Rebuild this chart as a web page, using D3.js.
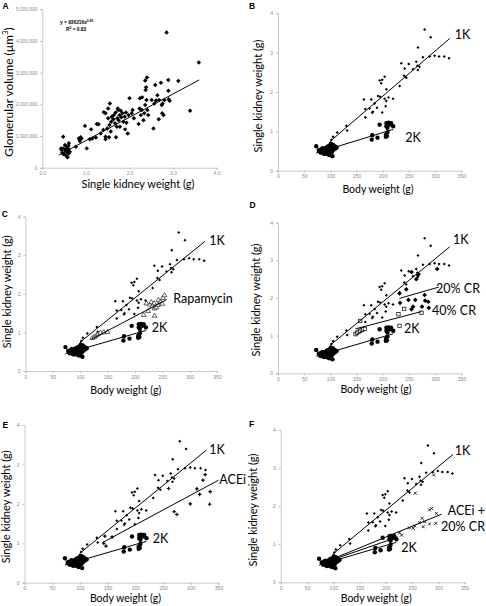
<!DOCTYPE html>
<html><head><meta charset="utf-8">
<script src="https://cdn.jsdelivr.net/npm/d3@7"></script>
<style>body{margin:0;background:#fff}</style>
</head><body><svg id="c" width="486" height="606"></svg>
<script>
// ---------- DATA ----------
// Panel A: single kidney weight (g) vs glomerular volume (µm³)
const glomPoints = [
[0.48,980000],[0.43,610000],[0.48,610000],[0.52,560000],[0.46,470000],[0.50,430000],[0.56,505000],[0.60,695000],[0.61,770000],[0.56,660000],[0.54,400000],[0.58,330000],[0.61,450000],[0.63,505000],[0.52,715000],[0.44,560000],[0.56,350000],[0.48,430000],[0.60,590000],[0.54,580000],
[0.77,660000],[0.84,925000],[0.88,960000],[0.90,925000],[0.86,840000],[0.98,1320000],[1.02,610000],[1.12,1210000],[1.09,895000],[1.15,925000],[1.25,1380000],[1.29,1370000],[1.23,950000],[1.34,1080000],[1.40,1190000],[1.41,1750000],[1.45,1720000],[1.45,980000],[1.45,895000],[1.49,1240000],[1.51,1560000],[1.51,1870000],[1.55,2030000],[1.54,1350000],[1.57,1140000],[1.53,960000],[1.58,1450000],[1.59,1610000],[1.63,1530000],[1.64,1660000],[1.67,1400000],[1.68,1740000],[1.71,1290000],[1.69,960000],[1.72,1560000],[1.73,1870000],[1.74,1820000],[1.75,1500000],[1.77,1660000],[1.78,1290000],[1.80,1800000],[1.81,1590000],[1.84,1720000],[1.86,1450000],[1.89,1610000],[1.90,1210000],[1.92,1740000],[1.93,1420000],[1.96,1080000],[1.98,1660000],[2.00,2190000],[2.05,1720000],[2.07,1820000],[2.10,1560000],[2.21,1380000],[2.23,1870000],[2.24,2190000],[2.26,1660000],[2.28,1820000],[2.29,2220000],[2.32,1500000],[2.34,1720000],[2.36,1980000],[2.37,2450000],[2.38,2540000],[2.36,2750000],[2.40,2850000],[2.39,2140000],[2.41,1820000],[2.43,1660000],[2.51,2140000],[2.55,1240000],[2.59,2610000],[2.57,2030000],[2.61,2120000],[2.64,2290000],[2.67,1530000],[2.68,2140000],[2.72,2680000],[2.74,1980000],[2.76,2030000],[2.75,1720000],[2.78,1660000],[2.80,2140000],[2.85,4270000],[2.89,2770000],[2.89,2430000],[2.90,2160000],[2.92,2110000],[3.12,2740000],[3.39,1800000],[3.59,3320000]
];
const trendA = [[0.38,400000],[3.6,2770000]];
const eqA = "y = 936216x";
const eqAExp = "0.81";
const r2A = "0.83";
const xTicksA = [0,1,2,3,4];
const yTicksA = [0,1000000,2000000,3000000,4000000,5000000];

// Panels B–F: body weight (g) vs single kidney weight (g)
const xTicksBW = [0,50,100,150,200,250,300,350];
const yTicksKW = [0,1,2,3,4];
const baseCluster = [[73,0.62],[78,0.52],[80,0.50],[81,0.46],[82,0.54],[84,0.49],[85,0.57],[86,0.45],[87,0.52],[88,0.55],[89,0.48],[90,0.52],[90,0.44],[91,0.57],[92,0.50],[93,0.46],[93,0.60],[94,0.53],[95,0.42],[95,0.49],[96,0.56],[96,0.62],[97,0.45],[97,0.52],[98,0.58],[98,0.40],[99,0.50],[99,0.64],[100,0.55],[100,0.47],[101,0.60],[101,0.68],[102,0.52],[102,0.57],[103,0.63],[103,0.48],[104,0.55],[104,0.37],[105,0.60],[105,0.66],[106,0.53],[107,0.58],[108,0.62],[109,0.56],[110,0.60],[112,0.59],[88,0.43],[84,0.53]];
const twoKPoints = [[179,0.79],[180,0.90],[190,0.84],[194,1.17],[206,0.91],[206,0.86],[208,0.88],[209,0.98],[207,1.21],[211,1.22],[216,1.21],[220,1.13],[207,1.13],[209,1.09],[213,1.17]];
const oneKPoints = [[100.5,0.71],[102,0.78],[105,0.86],[113,0.97],[130.5,1.14],[132,1.02],[164,1.81],[166.7,1.57],[166.7,1.36],[175,1.58],[178,1.81],[180,1.47],[181,1.50],[184.5,1.71],[189,1.60],[191,1.90],[195,1.88],[199,1.48],[205.6,1.64],[203.6,1.83],[206.8,1.77],[211,1.86],[219.6,1.83],[206.8,2.07],[194,2.29],[199,2.31],[197,2.22],[203.6,2.39],[232.3,2.15],[241,2.41],[245,2.36],[235.5,2.73],[249.5,2.71],[241.8,2.60],[264,2.77],[266,2.67],[270,2.64],[257.7,2.58],[267,2.56],[276.8,2.88],[289.6,2.90],[299,2.92],[307.4,2.90],[317.6,2.90],[326.5,2.86],[267.3,3.13],[280,3.59],[291.5,3.39]];
const rapaPoints = [[122,0.85],[126,0.88],[130,0.92],[133,0.96],[137,0.99],[143,1.0],[150,1.01],[216,1.45],[221,1.75],[224,1.55],[227,1.72],[230,1.78],[232,1.68],[235,1.75],[236,1.62],[236,1.43],[239,1.65],[242,1.71],[243,1.84],[247,1.79],[250,1.74],[251,1.89],[254,1.96]];
const cr20Points = [[232,2.12],[233,1.87],[245,2.23],[249,1.95],[255,2.69],[255,1.70],[258,1.77],[262,1.95],[264,2.50],[267,2.61],[275,1.77],[280,2.08],[281,1.93],[287,1.90],[288,1.74],[304,2.77]];
const cr40Points = [[148,1.04],[151,1.08],[154,1.10],[157,1.13],[160,1.15],[163,1.17],[166,1.18],[157,1.39],[230,1.57],[232,1.26],[241,1.71],[274,1.61]];
const aceiPoints = [[143,1.0],[147,0.93],[145,1.18],[158,1.16],[260,2.39],[270,1.80],[275,1.73],[299,2.0],[311,2.38],[316,2.24],[322,2.60],[326,2.74],[334,1.99],[335,2.31]];
const aceiCrPoints = [[207,1.2],[211,1.24],[226,1.30],[230,1.24],[245,1.43],[252,1.42],[255,1.48],[264,1.57],[269,1.68],[271,1.46],[274,1.59],[283,1.53],[283,1.90],[287,1.94],[295,1.55],[296,1.81],[256,2.34],[291,2.82]];

const fit1K = [[100,0.75],[328,3.36]];
const fit2K = [[73,0.45],[220,1.05]];
const fitRapa = [[120,0.82],[258,1.85]];
const fitCR20 = [[232,1.99],[307,2.29]];
const fitCR40 = [[148,1.18],[274,1.64]];
const fitAcei = [[141,1.02],[350,2.60]];
const fitAceiCr = [[100,0.62],[306,1.79]];
const fitAceiCrB = [[100,0.60],[223,1.19]];

// ---------- DRAWING ----------
const svg = d3.select("#c");
svg.append("rect").attr("width",486).attr("height",606).attr("fill","#fff");
const FONT = "Lato, 'Open Sans', sans-serif";

function marker(g, kind, x, y, d){
  const px = x(d[0]), py = y(d[1]);
  if (kind === "circle") g.append("circle").attr("cx",px).attr("cy",py).attr("r",2.2).attr("fill","#000");
  else if (kind === "diamond") g.append("path").attr("d",d3.symbol(d3.symbolSquare,10)()).attr("transform",`translate(${px},${py}) rotate(45)`).attr("fill","#000");
  else if (kind === "bigdiamond") g.append("path").attr("d",d3.symbol(d3.symbolSquare,11)()).attr("transform",`translate(${px},${py}) rotate(45)`).attr("fill","#000");
  else if (kind === "small") g.append("path").attr("d",d3.symbol(d3.symbolSquare,4.5)()).attr("transform",`translate(${px},${py}) rotate(45)`).attr("fill","#000");
  else if (kind === "triOpen") g.append("path").attr("d",d3.symbol(d3.symbolTriangle,10)()).attr("transform",`translate(${px},${py})`).attr("fill","#fff").attr("stroke","#000").attr("stroke-width",0.6);
  else if (kind === "sqOpen") g.append("rect").attr("x",px-1.7).attr("y",py-1.7).attr("width",3.4).attr("height",3.4).attr("fill","#fff").attr("stroke","#000").attr("stroke-width",0.7);
  else if (kind === "cross") g.append("path").attr("d",d3.symbol(d3.symbolCross,7)()).attr("transform",`translate(${px},${py})`).attr("fill","#000");
  else if (kind === "x") g.append("path").attr("d",`M${px-1.5},${py-1.5}L${px+1.5},${py+1.5}M${px-1.5},${py+1.5}L${px+1.5},${py-1.5}`).attr("stroke","#000").attr("stroke-width",0.8);
}

function panel(o){
  const g = svg.append("g");
  const x = d3.scaleLinear().domain(o.xd).range(o.xr);
  const y = d3.scaleLinear().domain(o.yd).range(o.yr);
  const ax = g.append("g").attr("transform",`translate(0,${o.yr[0]})`)
    .call(d3.axisBottom(x).tickValues(o.xt).tickSize(2).tickPadding(2).tickFormat(o.xf));
  const ay = g.append("g").attr("transform",`translate(${o.xr[0]},0)`)
    .call(d3.axisLeft(y).tickValues(o.yt).tickSize(2).tickPadding(3).tickFormat(o.yf));
  [ax,ay].forEach(a=>{
    a.select(".domain").attr("stroke","#bdbdbd").attr("stroke-width",0.8);
    a.selectAll(".tick line").attr("stroke","#bdbdbd");
    a.selectAll("text").attr("fill","#8a8a8a").attr("font-size",o.tickFs||5).attr("font-family","'Liberation Sans', Arial, sans-serif");
  });
  o.series.forEach(s=> s.data.forEach(d=>marker(g,s.kind,x,y,d)));
  const line = d3.line().x(d=>x(d[0])).y(d=>y(d[1]));
  o.lines.forEach(l=> g.append("path").attr("d",line(l)).attr("fill","none").attr("stroke","#000").attr("stroke-width",1));
  (o.labels||[]).forEach(t=> g.append("text").attr("x",t[1]).attr("y",t[2]).text(t[0])
    .attr("text-anchor",t[3]||"start")
    .attr("font-family",FONT).attr("font-size",12.5).attr("fill","#000"));
  g.append("text").attr("x",o.letter[1]).attr("y",o.letter[2]).text(o.letter[0])
    .attr("font-family","'Liberation Sans', Arial, sans-serif").attr("font-weight","bold").attr("font-size",8.5);
  g.append("text").attr("x",o.xtitle[1]).attr("y",o.xtitle[2]).attr("text-anchor","middle")
    .attr("font-family",FONT).attr("font-size",o.xtitle[3]).text(o.xtitle[0]);
  const yt = g.append("text").attr("transform",`translate(${o.ytitle[1]},${o.ytitle[2]}) rotate(-90)`).attr("text-anchor","middle")
    .attr("font-family",FONT).attr("font-size",o.ytitle[3]);
  if (o.ytitleParts){
    o.ytitleParts.forEach(p=>{ const ts = yt.append("tspan").text(p[0]); if(p[1]) ts.attr("baseline-shift","super").attr("font-size",o.ytitle[3]*0.65); });
  } else yt.text(o.ytitle[0]);
  return {g,x,y};
}

// Panel A
const pA = panel({xd:[0,4], yd:[0,5000000], xr:[42.3,216.7], yr:[167.7,9.3], xt:xTicksA, yt:yTicksA,
  xf:d3.format(".1f"), yf:d3.format(","), tickFs:4.8,
  series:[{kind:"diamond", data:glomPoints}], lines:[trendA],
  letter:["A",2.5,9], xtitle:["Single kidney weight (g)",138,187.5,11],
  ytitle:["",12.5,92,11.8], ytitleParts:[["Glomerular volume (µm"],["3",true],[")"]]});
const eq = pA.g.append("text").attr("x",60).attr("y",24).attr("font-family","'Liberation Sans', Arial, sans-serif").attr("font-size",4.8).attr("font-weight","bold");
eq.append("tspan").text(eqA);
eq.append("tspan").text(eqAExp).attr("baseline-shift","super").attr("font-size",3.4);
const r2 = pA.g.append("text").attr("x",66).attr("y",30.5).attr("font-family","'Liberation Sans', Arial, sans-serif").attr("font-size",4.8).attr("font-weight","bold");
r2.append("tspan").text("R");
r2.append("tspan").text("2").attr("baseline-shift","super").attr("font-size",3.4);
r2.append("tspan").text(" = " + r2A);

const common = [{kind:"circle", data:baseCluster},{kind:"circle", data:twoKPoints},{kind:"small", data:oneKPoints}];

// Panel B
panel({xd:[0,350], yd:[0,4], xr:[278,461.3], yr:[170.7,13.3], xt:xTicksBW, yt:yTicksKW, xf:d3.format("d"), yf:d3.format("d"),
  series:common, lines:[fit1K,fit2K],
  labels:[["1K",454.7,39.3],["2K",405.3,141.5]],
  letter:["B",249,8.5], xtitle:["Body weight (g)",378,193,10.5], ytitle:["Single kidney weight (g)",262,96,11]});

// Panel C
panel({xd:[0,350], yd:[0,4], xr:[25.5,217], yr:[371,216.7], xt:xTicksBW, yt:yTicksKW, xf:d3.format("d"), yf:d3.format("d"),
  series:common.concat([{kind:"triOpen", data:rapaPoints}]), lines:[fit1K,fitRapa,fit2K],
  labels:[["1K",209.3,245],["Rapamycin",173.3,302.5],["2K",151.7,332.3]],
  letter:["C",1.7,217.3], xtitle:["Body weight (g)",125.8,394,10.5], ytitle:["Single kidney weight (g)",11,291.7,11]});

// Panel D
panel({xd:[0,350], yd:[0,4], xr:[278,461.3], yr:[373.3,222.7], xt:xTicksBW, yt:yTicksKW, xf:d3.format("d"), yf:d3.format("d"),
  series:common.concat([{kind:"bigdiamond", data:cr20Points},{kind:"sqOpen", data:cr40Points}]), lines:[fit1K,fitCR20,fitCR40,fit2K],
  labels:[["1K",453,244.3],["20% CR",480,292.7,"end"],["40% CR",476,315,"end"],["2K",404,333.3]],
  letter:["D",249.5,208.3], xtitle:["Body weight (g)",376,393,10.5], ytitle:["Single kidney weight (g)",260,300,11]});

// Panel E
panel({xd:[0,350], yd:[0,4], xr:[24.5,218.5], yr:[582.7,425], xt:xTicksBW, yt:yTicksKW, xf:d3.format("d"), yf:d3.format("d"),
  series:common.concat([{kind:"cross", data:aceiPoints}]), lines:[fit1K,fitAcei,fit2K],
  labels:[["1K",209.3,454.3],["ACEi",219.3,484.3],["2K",152.7,542.7]],
  letter:["E",2.5,427.7], xtitle:["Body weight (g)",125.5,601.5,10.5], ytitle:["Single kidney weight (g)",9.7,506.7,11]});

// Panel F
panel({xd:[0,350], yd:[0,4], xr:[280.7,464.7], yr:[582.3,430], xt:xTicksBW, yt:yTicksKW, xf:d3.format("d"), yf:d3.format("d"),
  series:common.concat([{kind:"x", data:aceiCrPoints}]), lines:[fit1K,fitAceiCr,fitAceiCrB,fit2K],
  labels:[["1K",454.7,455],["ACEi +",485,515,"end"],["20% CR",485,530.7,"end"],["2K",401.3,551.7]],
  letter:["F",249,426.7], xtitle:["Body weight (g)",376.3,601.5,10.5], ytitle:["Single kidney weight (g)",257,510,11]});
</script>
</body></html>
